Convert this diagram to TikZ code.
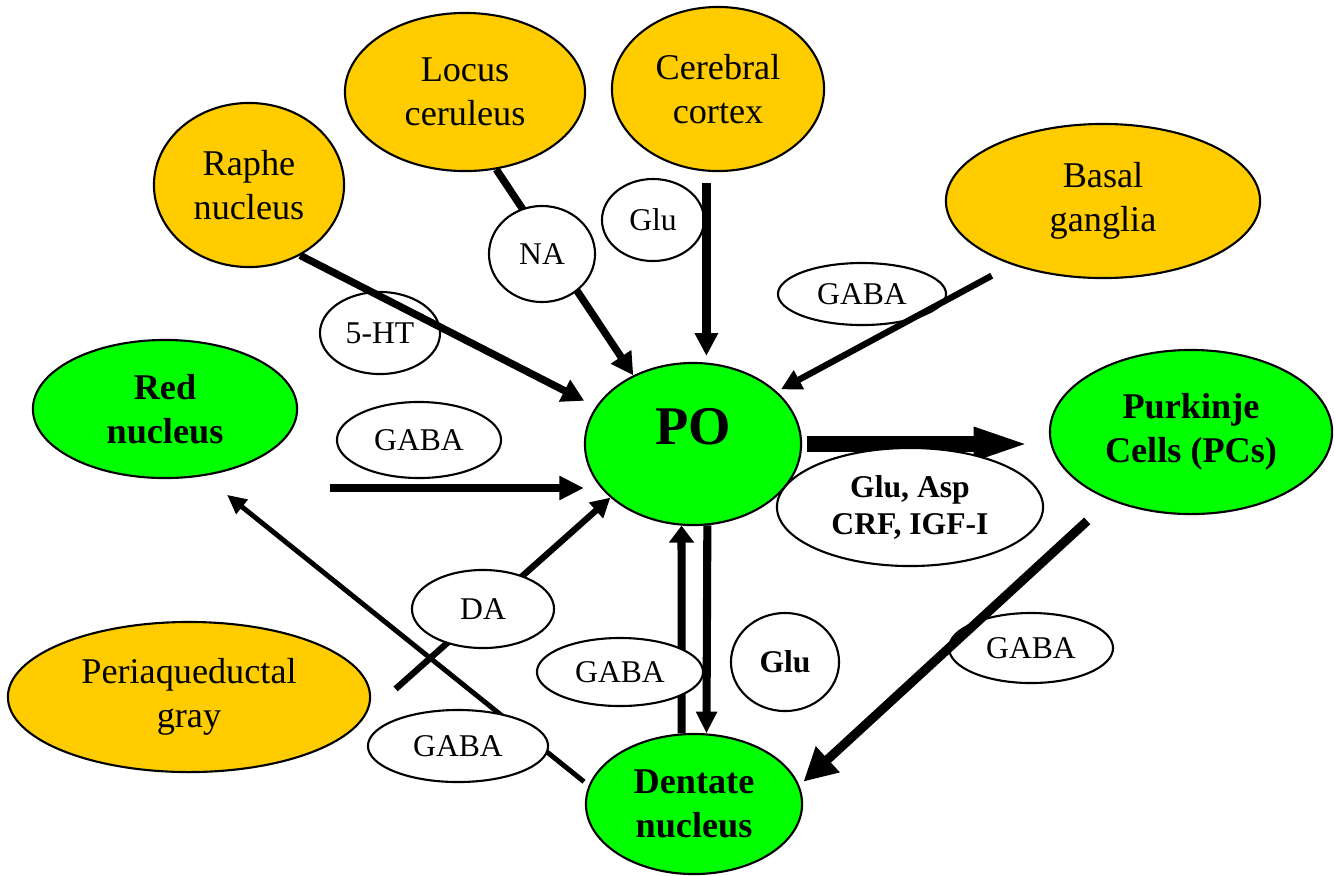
\documentclass[tikz,border=0pt]{standalone}
\usepackage{fontspec}
\setmainfont{Liberation Serif}
\usetikzlibrary{shapes.geometric,arrows.meta}
\definecolor{orng}{RGB}{255,204,0}
\definecolor{grn}{RGB}{0,255,0}
\tikzset{
  region/.style={ellipse, draw, line width=0.6pt, inner sep=0pt, align=center,
    font=\fontsize{10.3pt}{12.4pt}\selectfont},
  srcnode/.style={region, fill=orng},
  tgtnode/.style={region, fill=grn, font=\fontsize{10.3pt}{12.4pt}\selectfont\bfseries},
  lab/.style={ellipse, draw, fill=white, line width=0.6pt, inner sep=0pt, align=center,
    font=\fontsize{9pt}{10.5pt}\selectfont},
  labb/.style={lab, font=\fontsize{9pt}{10.5pt}\selectfont\bfseries},
  conn/.style={draw=black, line cap=butt},
}
\begin{document}
\begin{tikzpicture}[x=0.01cm,y=-0.01cm]
\useasboundingbox (0,0) rectangle (1334,875);
% regions
\node[srcnode, minimum width=2.40cm, minimum height=1.58cm] (locus) at (465,92) {Locus\\ceruleus};
\node[srcnode, minimum width=2.12cm, minimum height=1.64cm] (cortex) at (718,89) {Cerebral\\cortex};
\node[srcnode, minimum width=1.90cm, minimum height=1.64cm] (raphe) at (249,185) {Raphe\\nucleus};
\node[srcnode, minimum width=3.14cm, minimum height=1.54cm] (basal) at (1103,201) {Basal\\ganglia};
\node[tgtnode, minimum width=2.64cm, minimum height=1.38cm] (red) at (165,409) {Red\\nucleus};
\node[tgtnode, minimum width=2.16cm, minimum height=1.62cm, font=\fontsize{15.5pt}{18pt}\selectfont\bfseries,
      text height=10.3pt, text depth=10.3pt] (po) at (693,444) {PO};
\node[tgtnode, minimum width=2.82cm, minimum height=1.64cm] (pc) at (1191,432) {Purkinje\\Cells (PCs)};
\node[tgtnode, minimum width=2.16cm, minimum height=1.40cm] (dentate) at (694,804) {Dentate\\nucleus};
\node[srcnode, minimum width=3.62cm, minimum height=1.50cm] (pag) at (189,697) {Periaqueductal\\gray};
% labels beneath connectors
\node[lab, minimum width=1.20cm, minimum height=0.82cm] (ht) at (380,333) {5-HT};
\node[lab, minimum width=1.68cm, minimum height=0.62cm] (gabaB) at (862,294) {GABA};
\node[lab, minimum width=1.64cm, minimum height=0.70cm] (gabaR) at (1031,648) {GABA};
\node[lab, minimum width=1.02cm, minimum height=0.82cm] (gluT) at (653,220) {Glu};
\node[lab, minimum width=1.64cm, minimum height=0.76cm] (gabaL) at (419,440) {GABA};
\node[labb, minimum width=1.08cm, minimum height=0.98cm] (gluR) at (785,662) {Glu};
% connectors
\coordinate (gin) at (330,488);
\draw[conn, line width=2.1pt, -{Triangle[length=6.3pt,width=6.6pt]}, shorten >=3.7pt] (raphe.-54) -- (po.159);
\draw[conn, line width=2.1pt, -{Triangle[length=6.3pt,width=6.6pt]}] (locus.-68) -- (po.131);
\draw[conn, line width=2.4pt, -{Triangle[length=6.5pt,width=6.3pt]}, shorten <=3.3pt, shorten >=1.7pt] (cortex.-98) -- (cortex.-98 |- po.north);
\draw[conn, line width=1.8pt, -{Triangle[length=5.8pt,width=5.8pt]}, shorten <=6.5pt, shorten >=1.3pt] (basal.-145.4) -- (po.32.6);
\draw[conn, line width=2.2pt, -{Triangle[length=7pt,width=6.5pt]}] (gin) -- (gin -| po.west);
\draw[conn, line width=1.4pt, -{Triangle[length=5.5pt,width=5pt]}, shorten <=1.7pt, shorten >=8.5pt] (dentate.170.1) -- (red.-60.4);
\draw[conn, line width=1.8pt, -{Triangle[length=5.5pt,width=5.7pt]}, shorten <=11.4pt] (pag.-6.3) -- (po.213.5);
\draw[conn, line width=2.3pt, -{Triangle[length=4.8pt,width=6.9pt]}] (dentate.100.6) -- (po.-98.5);
\draw[conn, line width=4.6pt, -{Triangle[length=16.8pt,width=8.3pt]}, shorten <=1.4pt, shorten >=4.6pt] (po.east) -- (po.east -| pc.west);
\draw[conn, line width=2.6pt, -{Triangle[length=9.4pt,width=9.4pt]}, shorten <=8.7pt, shorten >=1.6pt] (pc.-140.1) -- (dentate.10.5);
% labels above connectors
\node[lab, minimum width=1.06cm, minimum height=0.96cm] (na) at (542,254) {NA};
\node[lab, minimum width=1.42cm, minimum height=0.78cm] (da) at (483,609) {DA};
\node[lab, minimum width=1.80cm, minimum height=0.72cm] (gabaBL) at (458,746) {GABA};
\node[lab, minimum width=1.66cm, minimum height=0.68cm] (gabaM) at (620,672) {GABA};
\node[labb, minimum width=2.66cm, minimum height=1.18cm] (gluasp) at (910,507) {Glu, Asp\\CRF, IGF-I};
\draw[conn, line width=2.3pt, -{Triangle[length=6.2pt,width=5.7pt]}] (po.-80.8) -- (dentate.80.2);
\end{tikzpicture}
\end{document}
